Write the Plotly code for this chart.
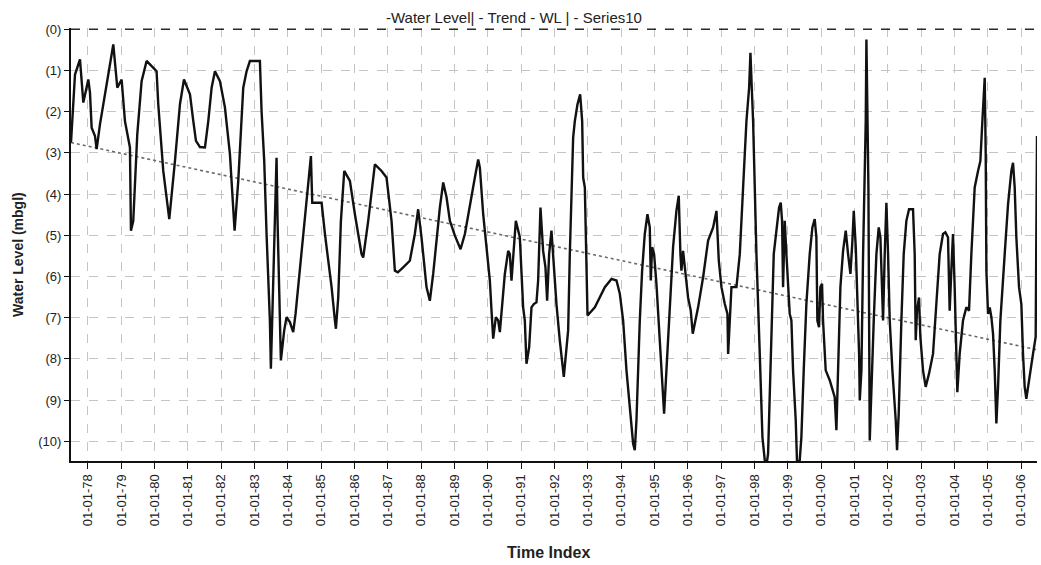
import plotly.graph_objects as go
import pandas as pd

# Water level series (decimal year, mbgl)
wl_years = [
    1977.49, 1977.61, 1977.76, 1977.86, 1978.01, 1978.06, 1978.11, 1978.21, 1978.26, 1978.36,
    1978.76, 1978.88, 1979.01, 1979.11, 1979.26, 1979.29, 1979.36, 1979.48, 1979.61, 1979.76,
    1980.06, 1980.11, 1980.26, 1980.44, 1980.61, 1980.76, 1980.88, 1981.06, 1981.16, 1981.24,
    1981.36, 1981.51, 1981.61, 1981.71, 1981.81, 1981.96, 1982.11, 1982.26, 1982.40, 1982.51,
    1982.66, 1982.76, 1982.86, 1983.16, 1983.21, 1983.29, 1983.36, 1983.41, 1983.46, 1983.49,
    1983.56, 1983.61, 1983.66, 1983.69, 1983.73, 1983.79, 1983.89, 1983.96, 1984.06, 1984.16,
    1984.23, 1984.36, 1984.51, 1984.63, 1984.69, 1984.73, 1985.01, 1985.11, 1985.31, 1985.41,
    1985.44, 1985.51, 1985.59, 1985.69, 1985.86, 1986.01, 1986.21, 1986.26, 1986.41, 1986.61,
    1986.81, 1986.96, 1987.11, 1987.21, 1987.30, 1987.46, 1987.66, 1987.81, 1987.91, 1988.01,
    1988.16, 1988.26, 1988.36, 1988.56, 1988.66, 1988.76, 1988.86, 1989.01, 1989.18, 1989.31,
    1989.46, 1989.61, 1989.71, 1989.76, 1989.86, 1989.96, 1990.06, 1990.11, 1990.16, 1990.24,
    1990.31, 1990.36, 1990.44, 1990.51, 1990.61, 1990.66, 1990.71, 1990.76, 1990.84, 1990.96,
    1991.06, 1991.11, 1991.16, 1991.24, 1991.31, 1991.38, 1991.46, 1991.51, 1991.58, 1991.66,
    1991.73, 1991.78, 1991.84, 1991.91, 1991.96, 1992.06, 1992.16, 1992.28, 1992.41, 1992.46,
    1992.56, 1992.61, 1992.69, 1992.77, 1992.83, 1992.86, 1992.91, 1992.96, 1992.99, 1993.21,
    1993.51, 1993.71, 1993.86, 1993.96, 1994.06, 1994.16, 1994.26, 1994.36, 1994.41, 1994.46,
    1994.56, 1994.63, 1994.71, 1994.79, 1994.86, 1994.89, 1994.93, 1994.99, 1995.06, 1995.13,
    1995.19, 1995.23, 1995.29, 1995.36, 1995.46, 1995.56, 1995.66, 1995.73, 1995.78, 1995.81,
    1995.86, 1995.93, 1996.01, 1996.09, 1996.15, 1996.21, 1996.31, 1996.46, 1996.61, 1996.76,
    1996.86, 1996.93, 1997.01, 1997.11, 1997.19, 1997.21, 1997.31, 1997.46, 1997.56, 1997.66,
    1997.76, 1997.84, 1997.88, 1997.92, 1997.96, 1998.01, 1998.06, 1998.16, 1998.24, 1998.31,
    1998.36, 1998.41, 1998.46, 1998.51, 1998.58, 1998.66, 1998.74, 1998.79, 1998.83, 1998.86,
    1998.91, 1998.96, 1999.01, 1999.06, 1999.11, 1999.16, 1999.24, 1999.28, 1999.36, 1999.41,
    1999.48, 1999.56, 1999.66, 1999.74, 1999.81, 1999.86, 1999.89, 1999.94, 1999.98, 2000.03,
    2000.06, 2000.14, 2000.26, 2000.41, 2000.46, 2000.51, 2000.58, 2000.66, 2000.74, 2000.81,
    2000.88, 2000.94, 2000.98, 2001.04, 2001.08, 2001.14, 2001.16, 2001.21, 2001.26, 2001.31,
    2001.34, 2001.36, 2001.39, 2001.42, 2001.46, 2001.51, 2001.58, 2001.66, 2001.73, 2001.78,
    2001.82, 2001.86, 2001.91, 2001.96, 2002.01, 2002.06, 2002.14, 2002.18, 2002.24, 2002.28,
    2002.33, 2002.41, 2002.48, 2002.56, 2002.64, 2002.76, 2002.81, 2002.84, 2002.88, 2002.94,
    2002.98, 2003.06, 2003.14, 2003.24, 2003.36, 2003.46, 2003.56, 2003.66, 2003.73, 2003.81,
    2003.86, 2003.91, 2003.96, 2004.01, 2004.06, 2004.09, 2004.16, 2004.26, 2004.36, 2004.44,
    2004.51, 2004.61, 2004.71, 2004.78, 2004.84, 2004.91, 2004.94, 2004.96, 2005.01, 2005.06,
    2005.11, 2005.16, 2005.21, 2005.26, 2005.31, 2005.38, 2005.51, 2005.61, 2005.71, 2005.76,
    2005.81, 2005.86, 2005.94, 2006.01, 2006.06, 2006.11, 2006.16, 2006.26, 2006.36, 2006.44,
    2006.46, 2006.48,
]
wl_values = [
    2.75, 1.10, 0.73, 1.78, 1.22, 1.54, 2.39, 2.59, 2.91, 2.31,
    0.37, 1.42, 1.22, 2.23, 2.87, 4.89, 4.65, 2.55, 1.26, 0.77,
    1.02, 1.82, 3.44, 4.61, 3.20, 1.82, 1.22, 1.58, 2.23, 2.71,
    2.86, 2.87, 2.23, 1.42, 1.02, 1.26, 1.90, 3.03, 4.89, 3.68,
    1.42, 1.02, 0.77, 0.77, 1.99, 3.20, 4.97, 6.02, 7.07, 8.24,
    6.26, 4.65, 3.12, 4.65, 6.26, 8.04, 7.31, 6.99, 7.11, 7.35,
    6.91, 5.86, 4.65, 3.60, 3.08, 4.21, 4.21, 4.97, 6.26, 7.07,
    7.27, 6.51, 4.65, 3.44, 3.68, 4.49, 5.46, 5.54, 4.65, 3.28,
    3.44, 3.60, 4.65, 5.86, 5.90, 5.78, 5.62, 4.97, 4.37, 5.05,
    6.26, 6.59, 5.94, 4.33, 3.72, 4.08, 4.65, 5.01, 5.34, 4.97,
    4.33, 3.60, 3.16, 3.36, 4.49, 5.29, 6.10, 6.83, 7.51, 6.99,
    7.07, 7.35, 6.51, 5.94, 5.38, 5.46, 6.10, 5.46, 4.65, 5.05,
    6.75, 7.07, 8.12, 7.72, 6.75, 6.67, 6.63, 6.10, 4.33, 5.38,
    5.78, 6.59, 5.46, 4.89, 5.54, 6.67, 7.55, 8.44, 7.31, 5.46,
    2.63, 2.23, 1.82, 1.58, 2.23, 3.60, 3.84, 5.46, 6.95, 6.75,
    6.26, 6.06, 6.10, 6.42, 7.07, 8.28, 9.09, 10.06, 10.22, 9.49,
    7.07, 5.86, 4.97, 4.49, 4.81, 6.10, 5.29, 5.46, 6.18, 7.07,
    7.88, 8.52, 9.33, 8.28, 6.67, 5.29, 4.41, 4.04, 5.46, 5.86,
    5.38, 5.94, 6.51, 6.83, 7.39, 7.15, 6.75, 6.02, 5.13, 4.81,
    4.41, 5.62, 6.26, 6.67, 6.91, 7.88, 6.26, 6.26, 5.46, 3.84,
    2.23, 1.42, 0.57, 1.42, 2.23, 3.84, 5.46, 7.88, 9.90, 10.46,
    10.60, 10.30, 8.69, 7.07, 5.46, 4.89, 4.33, 4.21, 4.65, 6.26,
    4.65, 5.46, 6.26, 6.91, 7.07, 8.28, 9.49, 10.54, 10.46, 9.90,
    8.28, 6.67, 5.46, 4.81, 4.61, 5.05, 7.07, 7.23, 6.26, 6.18,
    7.07, 8.28, 8.52, 8.93, 9.73, 8.28, 6.26, 5.38, 4.89, 5.46,
    5.94, 5.13, 4.41, 5.29, 6.26, 7.88, 9.01, 8.28, 5.46, 3.84,
    2.23, 0.25, 2.23, 3.84, 9.98, 8.69, 7.07, 5.46, 4.81, 5.05,
    5.86, 7.07, 5.46, 4.21, 5.46, 7.07, 8.28, 8.68, 9.49, 10.22,
    9.33, 7.07, 5.46, 4.65, 4.37, 4.37, 5.46, 7.55, 6.83, 6.51,
    7.47, 8.28, 8.68, 8.36, 7.88, 6.67, 5.46, 4.97, 4.93, 5.05,
    6.83, 5.86, 4.97, 6.26, 7.88, 8.81, 7.88, 7.07, 6.75, 6.83,
    5.46, 3.84, 3.44, 3.20, 2.23, 1.18, 3.03, 5.86, 6.91, 6.75,
    6.99, 7.39, 8.28, 9.57, 8.68, 7.07, 5.46, 4.25, 3.44, 3.24,
    3.84, 5.05, 6.26, 6.67, 7.88, 8.68, 8.97, 8.36, 7.88, 7.47,
    4.65, 2.59,
]

# Trend line end points (decimal year, mbgl)
trend_years = [1977.49, 2006.48]
trend_values = [2.75, 7.78]

# Series10 (reference line at zero)
s10_years = [1977.49, 2006.48]
s10_values = [0.0, 0.0]

y_tick_values = list(range(0, 11))
y_tick_labels = ["(%d)" % v for v in y_tick_values]

x_range_years = [1977.49, 2006.48]


def dec_to_date(y):
    yr = int(y)
    frac = y - yr
    start = pd.Timestamp(yr, 1, 1)
    end = pd.Timestamp(yr + 1, 1, 1)
    return start + (end - start) * frac


FONT = "Arial, Liberation Sans, sans-serif"
W, H = 1041, 565
ML, MR, MT, MB = 71, 4, 28, 104
pw = W - ML - MR
ph = H - MT - MB

fig = go.Figure()
fig.add_trace(go.Scatter(
    x=[dec_to_date(v) for v in s10_years], y=s10_values, mode="lines",
    line=dict(color="#2a2a2a", width=1.6, dash="dash"), name="Series10", showlegend=False))
fig.add_trace(go.Scatter(
    x=[dec_to_date(v) for v in trend_years], y=trend_values, mode="lines",
    line=dict(color="#6a6a6a", width=1.6, dash="dot"), name="Trend - WL", showlegend=False))
fig.add_trace(go.Scatter(
    x=[dec_to_date(v) for v in wl_years], y=wl_values, mode="lines",
    line=dict(color="#111111", width=2.4), name="Water Level", showlegend=False))

fig.update_layout(
    width=W, height=H,
    margin=dict(l=ML, r=MR, t=MT, b=MB),
    paper_bgcolor="white", plot_bgcolor="white",
    font=dict(family=FONT, color="#222"),
    xaxis=dict(
        type="date", automargin=False,
        range=[dec_to_date(x_range_years[0]), dec_to_date(x_range_years[1])],
        tick0="1978-01-01", dtick="M12", tickformat="%d-%m-%y",
        tickangle=-90, ticks="outside", ticklen=6, tickwidth=1.2, tickcolor="#111",
        tickfont=dict(size=13, family=FONT, color="#222"),
        showline=True, linecolor="#111", linewidth=2.2, mirror=False,
        showgrid=True, gridcolor="#c4c4c4", gridwidth=1, griddash="dash",
        zeroline=False,
    ),
    yaxis=dict(
        automargin=False,
        range=[10.48, -0.03],
        tickvals=y_tick_values, ticktext=y_tick_labels,
        ticks="outside", ticklen=5, tickwidth=1.2, tickcolor="#111",
        tickfont=dict(size=13, family=FONT, color="#222"),
        showline=True, linecolor="#111", linewidth=2.2,
        showgrid=True, gridcolor="#c4c4c4", gridwidth=1, griddash="dash",
        zeroline=False,
    ),
    annotations=[
        dict(text="-Water Level| - Trend - WL | - Series10",
             x=(514 - ML) / pw, y=1 + (MT - 17) / ph, yanchor="middle",
             xref="paper", yref="paper", showarrow=False,
             font=dict(size=15, family=FONT, color="#222")),
        dict(text="<b>Time Index</b>", x=(548 - ML) / pw, y=-(552 - (H - MB)) / ph,
             yanchor="middle",
             xref="paper", yref="paper", showarrow=False,
             font=dict(size=16, family=FONT, color="#222")),
        dict(text="<b>Water Level (mbgl)</b>", x=-(ML - 18) / pw, y=((H - MB) - 255) / ph,
             xanchor="center", yanchor="middle",
             xref="paper", yref="paper", showarrow=False, textangle=-90,
             font=dict(size=14, family=FONT, color="#222")),
    ],
)

fig.write_html("out.html", config={"displayModeBar": False},
               post_script="document.body.style.margin='0px';")
